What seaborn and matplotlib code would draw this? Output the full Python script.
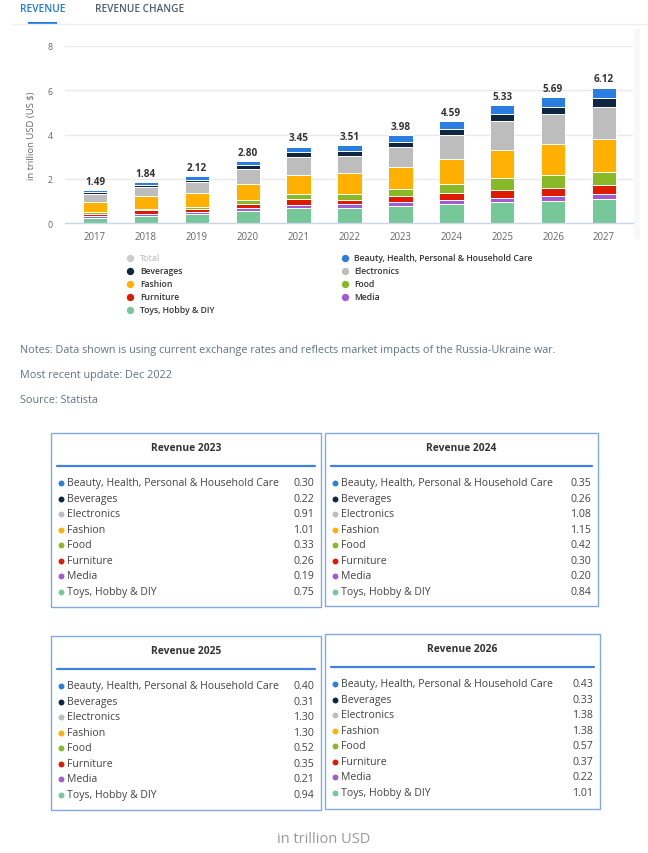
import numpy as np
import pandas as pd
import matplotlib
matplotlib.use("Agg")
import matplotlib.pyplot as plt
from matplotlib.patches import Rectangle
import seaborn as sns

# ---------------- data ----------------
years = ["2017", "2018", "2019", "2020", "2021", "2022", "2023", "2024", "2025", "2026", "2027"]
totals = [1.49, 1.84, 2.12, 2.80, 3.45, 3.51, 3.98, 4.59, 5.33, 5.69, 6.12]

beauty      = [0.08, 0.11, 0.16, 0.19, 0.25, 0.26, 0.30, 0.35, 0.40, 0.43, 0.49]
beverages   = [0.08, 0.09, 0.10, 0.17, 0.21, 0.21, 0.22, 0.26, 0.31, 0.33, 0.37]
electronics = [0.38, 0.43, 0.50, 0.68, 0.80, 0.80, 0.91, 1.08, 1.30, 1.38, 1.48]
fashion     = [0.44, 0.56, 0.64, 0.70, 0.89, 0.92, 1.01, 1.15, 1.30, 1.38, 1.46]
food        = [0.12, 0.07, 0.09, 0.22, 0.23, 0.26, 0.33, 0.42, 0.52, 0.57, 0.62]
furniture   = [0.09, 0.16, 0.13, 0.15, 0.24, 0.22, 0.26, 0.30, 0.35, 0.37, 0.40]
media       = [0.07, 0.09, 0.11, 0.16, 0.17, 0.16, 0.19, 0.20, 0.21, 0.22, 0.23]
toys        = [0.23, 0.33, 0.39, 0.53, 0.66, 0.68, 0.75, 0.84, 0.94, 1.01, 1.07]

categories = ["Beauty, Health, Personal & Household Care", "Beverages", "Electronics",
              "Fashion", "Food", "Furniture", "Media", "Toys, Hobby & DIY"]
series = [beauty, beverages, electronics, fashion, food, furniture, media, toys]
colors = ["#2a7de1", "#0e2640", "#bdbdbd", "#ffb000", "#88ba27", "#dc1b00", "#a35bd3", "#77c899"]

yticks = [0, 2, 4, 6, 8]
table_years = ["2023", "2024", "2025", "2026"]

tab_labels = ["REVENUE", "REVENUE CHANGE"]
notes = ["Notes: Data shown is using current exchange rates and reflects market impacts of the Russia-Ukraine war.",
         "Most recent update: Dec 2022",
         "Source: Statista"]

# ---------------- figure ----------------
sns.set_theme(style="white")
plt.rcParams["font.family"] = ["Open Sans", "DejaVu Sans"]

W, H = 648, 854
fig = plt.figure(figsize=(W / 100, H / 100), dpi=100)
fig.patch.set_facecolor("white")

def fx(px):
    return px / W

def fy(py):
    return 1 - py / H

# overlay in pixel coordinates
ov = fig.add_axes([0, 0, 1, 1])
ov.set_xlim(0, W)
ov.set_ylim(H, 0)
ov.axis("off")

# tabs
ov.plot([12, 648], [25, 25], color="#eef1f4", lw=1)
ov.text(20, 9, tab_labels[0], color="#1f78e0", fontsize=7.3, fontweight="semibold", va="center", ha="left")
ov.add_patch(Rectangle((28, 22.5), 29, 2.2, color="#1f78e0", lw=0))
ov.text(95, 9, tab_labels[1], color="#4d5d6f", fontsize=7.2, fontweight="semibold", va="center", ha="left")

# faint scrollbar band at right of chart
ov.add_patch(Rectangle((634, 30), 6, 210, color="#f8f8f8", lw=0))

# ---------------- chart ----------------
ax_left, ax_right, ax_top, ax_bottom = 65, 633, 47, 224
ax = fig.add_axes([fx(ax_left), fy(ax_bottom), (ax_right - ax_left) / W, (ax_bottom - ax_top) / H])

# stack from bottom: toys, media, furniture, food, fashion, electronics, beverages, beauty
stack_idx = [7, 6, 5, 4, 3, 2, 1, 0]
cum = np.zeros(len(years))
layers = []
for i in stack_idx:
    cum = cum + np.array(series[i])
    layers.append((i, cum.copy()))

for i, c in reversed(layers):
    sns.barplot(x=years, y=c, order=years, color=colors[i], saturation=1, width=0.48,
                edgecolor="white", linewidth=0.7, errorbar=None, ax=ax)

ax.set_xlim(-0.59, 10.57)
ax.set_ylim(0, 8)
ax.set_yticks(yticks)
ax.set_yticklabels([str(t) for t in yticks])
ax.yaxis.grid(True, color="#e9e9e9", lw=1)
ax.set_axisbelow(True)
for s in ["top", "right", "left"]:
    ax.spines[s].set_visible(False)
ax.spines["bottom"].set_color("#ccd6eb")
ax.spines["bottom"].set_linewidth(1)
ax.tick_params(axis="y", length=0, pad=9, labelsize=6.4, labelcolor="#666666")
ax.tick_params(axis="x", length=3, width=0.8, color="#ccd6eb", pad=3, labelsize=6.9, labelcolor="#666666")
ax.set_xlabel("")
ax.set_ylabel("in trillion USD (US $)", fontsize=6.8, color="#666666", labelpad=8)

for k, t in enumerate(totals):
    ax.text(k, t + 0.15, f"{t:.2f}", ha="center", va="bottom", fontsize=7.2,
            fontweight="bold", color="#333333")

# ---------------- legend ----------------
legend_left = [("Total", "#cccccc", "#c4c4c4")] + [(categories[i], colors[i], "#333333") for i in [1, 3, 5, 7]]
legend_right = [(categories[i], colors[i], "#333333") for i in [0, 2, 4, 6]]
for col, (mx, tx) in zip([legend_left, legend_right], [(130, 140), (345, 354)]):
    for r, (name, c, tc) in enumerate(col):
        yy = 259 + r * 13
        ov.scatter([mx], [yy], s=28, color=c, lw=0)
        ov.text(tx, yy, name, fontsize=6.2, color=tc, va="center", ha="left", fontweight="semibold")

# ---------------- notes ----------------
for r, line in enumerate(notes):
    ov.text(20, 351 + r * 25, line, fontsize=7.85, color="#627386", va="center", ha="left")

# ---------------- tables ----------------
boxes = [(51, 434, 321, 608), (325, 434, 598, 607), (51, 637, 321, 811), (325, 635, 600, 810)]
for (l, t, r, b), yr in zip(boxes, table_years):
    yi = years.index(yr)
    ov.add_patch(Rectangle((l + 1.2, t + 1.2), r - l, b - t, facecolor="#f1f1f1", edgecolor="none", zorder=1))
    ov.add_patch(Rectangle((l, t), r - l, b - t, facecolor="white", edgecolor="#7fa9e4", lw=1, zorder=2))
    ov.text((l + r) / 2, t + 15, f"Revenue {yr}", fontsize=7.4, fontweight="bold", color="#333333",
            ha="center", va="center", zorder=3)
    ov.plot([l + 6, r - 6], [t + 33, t + 33], color="#3d82e3", lw=1.6, zorder=3)
    for k, (name, vals, c) in enumerate(zip(categories, series, colors)):
        yy = t + 50 + k * 15.5
        ov.scatter([l + 10], [yy], s=18, color=c, lw=0, zorder=3)
        ov.text(l + 16, yy, name, fontsize=7.6, color="#444444", va="center", ha="left", zorder=3)
        ov.text(r - 7, yy, f"{vals[yi]:.2f}", fontsize=7.6, color="#444444", va="center", ha="right", zorder=3)

ov.text(324, 840, "in trillion USD", fontsize=10.5, color="#9a9a9a", ha="center", va="center")

fig.savefig("out.png", dpi=100, facecolor="white")
